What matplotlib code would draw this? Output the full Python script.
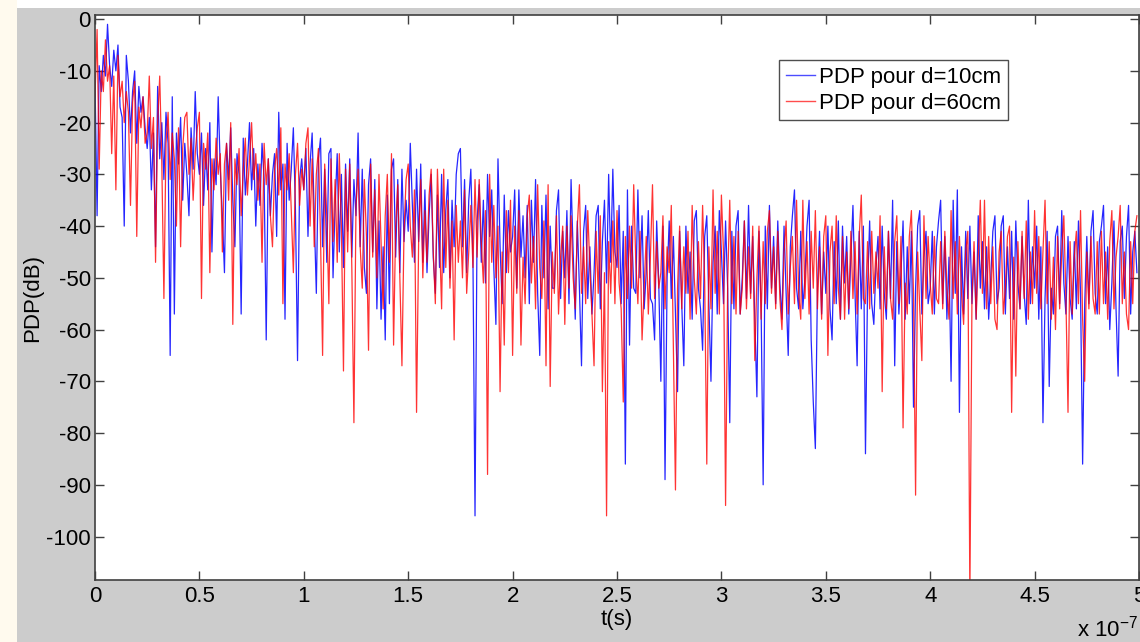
import numpy as np
import matplotlib
matplotlib.use("Agg")
import matplotlib.pyplot as plt
from matplotlib.ticker import FuncFormatter, FixedLocator
from matplotlib.patches import Rectangle

# ---- data (PDP in dB, one sample every 1 ns, 0 .. 499 ns) ----
dt = 1e-9
pdp_10cm = [
    -12, -38, -9, -14, -7, -11, -1, -9, -13, -6, -10, -5, -17, -19, -40, -7, -12, -22, -14, -10, -24, -13, -18, -15, -21,
    -25, -19, -33, -22, -44, -13, -27, -20, -31, -18, -24, -65, -15, -57, -22, -28, -19, -35, -24, -30, -38, -21, -29, -14, -26,
    -30, -22, -36, -25, -33, -20, -45, -27, -32, -15, -29, -38, -49, -24, -31, -21, -35, -44, -26, -30, -57, -23, -34, -28, -20,
    -33, -25, -40, -28, -36, -24, -31, -62, -27, -38, -30, -26, -42, -18, -33, -28, -58, -24, -35, -29, -21, -37, -66, -31, -27,
    -33, -25, -42, -28, -22, -38, -53, -27, -23, -44, -29, -47, -26, -25, -50, -36, -26, -45, -30, -48, -28, -41, -27, -46, -31,
    -38, -22, -44, -29, -48, -53, -32, -27, -45, -31, -56, -39, -58, -44, -62, -34, -55, -29, -27, -46, -31, -49, -29, -43, -35,
    -41, -24, -36, -47, -29, -43, -28, -47, -33, -49, -38, -30, -46, -53, -34, -48, -30, -49, -37, -31, -50, -35, -44, -30, -26,
    -25, -44, -31, -49, -35, -29, -46, -96, -39, -32, -47, -35, -51, -30, -42, -33, -48, -59, -27, -44, -55, -34, -49, -37, -45,
    -42, -33, -52, -33, -46, -38, -50, -36, -55, -35, -47, -31, -53, -65, -36, -50, -34, -56, -40, -52, -52, -37, -33, -54, -41,
    -50, -37, -55, -31, -45, -58, -39, -52, -67, -41, -36, -54, -44, -57, -49, -38, -36, -56, -43, -35, -51, -30, -47, -29, -45,
    -48, -36, -55, -41, -86, -33, -63, -40, -52, -53, -33, -50, -38, -56, -49, -37, -54, -55, -62, -39, -51, -70, -40, -89, -50,
    -39, -54, -42, -57, -72, -41, -55, -67, -40, -53, -45, -58, -39, -37, -52, -56, -64, -42, -38, -55, -70, -47, -40, -57, -37,
    -45, -55, -39, -52, -78, -41, -56, -40, -37, -57, -50, -39, -54, -36, -53, -42, -58, -73, -41, -55, -90, -40, -56, -36, -52,
    -42, -55, -39, -51, -58, -40, -53, -65, -44, -38, -33, -52, -56, -41, -56, -50, -40, -35, -62, -74, -83, -52, -41, -57, -45,
    -53, -40, -56, -62, -43, -55, -39, -58, -40, -51, -42, -57, -46, -36, -53, -67, -41, -56, -40, -84, -52, -39, -55, -59, -48,
    -42, -56, -40, -53, -58, -41, -54, -35, -67, -43, -57, -49, -39, -58, -44, -55, -41, -75, -52, -40, -37, -57, -46, -41, -55,
    -52, -41, -57, -44, -39, -35, -55, -42, -58, -46, -70, -35, -53, -33, -76, -44, -57, -41, -54, -40, -55, -45, -58, -38, -52,
    -43, -56, -44, -58, -50, -41, -38, -55, -52, -40, -38, -57, -44, -54, -41, -58, -39, -51, -56, -42, -53, -59, -35, -55, -44,
    -52, -40, -58, -44, -78, -54, -41, -71, -52, -57, -42, -40, -55, -37, -51, -57, -42, -54, -58, -43, -56, -39, -53, -86, -55,
    -42, -55, -41, -37, -53, -57, -43, -40, -36, -55, -44, -60, -51, -39, -56, -69, -43, -40, -54, -42, -36, -57, -45, -41, -49,
]
pdp_60cm = [
    -15, -2, -29, -10, -14, -4, -12, -9, -26, -11, -33, -7, -15, -12, -20, -14, -18, -36, -16, -12, -42, -17, -21, -15, -24,
    -22, -11, -25, -19, -47, -20, -11, -28, -54, -24, -18, -31, -22, -27, -40, -21, -44, -25, -19, -18, -30, -23, -35, -26, -21,
    -18, -54, -24, -29, -22, -49, -27, -33, -23, -30, -26, -45, -28, -24, -35, -20, -59, -27, -32, -25, -38, -29, -23, -34, -27,
    -20, -31, -26, -35, -28, -47, -24, -32, -27, -38, -44, -29, -25, -34, -21, -55, -28, -33, -26, -37, -49, -30, -24, -36, -29,
    -33, -24, -21, -40, -27, -44, -30, -25, -42, -65, -28, -38, -55, -27, -43, -31, -47, -26, -40, -68, -29, -45, -28, -48, -78,
    -36, -29, -44, -52, -31, -42, -64, -28, -46, -33, -50, -30, -43, -56, -38, -30, -47, -26, -63, -40, -32, -50, -67, -41, -31,
    -28, -40, -46, -33, -76, -43, -31, -50, -37, -47, -34, -29, -45, -55, -29, -42, -56, -29, -48, -35, -52, -39, -62, -36, -47,
    -39, -50, -33, -53, -45, -36, -48, -31, -46, -31, -43, -51, -37, -88, -30, -47, -36, -50, -40, -72, -45, -63, -37, -49, -35,
    -65, -40, -53, -37, -63, -46, -55, -38, -34, -51, -42, -56, -32, -48, -54, -39, -67, -32, -71, -45, -53, -38, -57, -46, -40,
    -59, -40, -52, -38, -50, -56, -40, -32, -53, -44, -55, -37, -48, -57, -67, -41, -53, -38, -72, -49, -96, -43, -53, -39, -55,
    -37, -51, -56, -74, -42, -54, -40, -52, -32, -47, -55, -41, -62, -52, -42, -57, -46, -32, -54, -43, -52, -49, -38, -56, -44,
    -49, -36, -63, -91, -52, -40, -56, -44, -53, -41, -58, -36, -50, -57, -43, -54, -36, -51, -86, -44, -56, -33, -53, -41, -57,
    -34, -45, -94, -51, -35, -55, -42, -57, -41, -57, -52, -39, -56, -44, -54, -40, -66, -50, -40, -58, -43, -55, -41, -37, -53,
    -44, -56, -41, -54, -60, -45, -39, -57, -48, -42, -55, -35, -53, -58, -35, -54, -43, -57, -41, -52, -37, -56, -44, -58, -42,
    -38, -65, -45, -40, -55, -38, -52, -58, -42, -58, -45, -56, -41, -54, -43, -57, -42, -34, -54, -55, -43, -56, -41, -53, -45,
    -52, -38, -72, -44, -56, -41, -54, -58, -43, -38, -55, -42, -79, -51, -57, -42, -37, -53, -92, -45, -56, -66, -38, -54, -42,
    -51, -57, -42, -54, -55, -43, -56, -41, -52, -58, -37, -54, -43, -57, -42, -53, -59, -45, -41, -112, -54, -43, -58, -46, -35,
    -53, -35, -56, -42, -55, -44, -58, -60, -45, -41, -57, -52, -42, -40, -76, -46, -69, -43, -56, -41, -54, -39, -58, -45, -55,
    -37, -53, -42, -56, -45, -35, -55, -43, -58, -46, -60, -42, -56, -45, -38, -54, -76, -43, -57, -46, -41, -55, -37, -58, -70,
    -45, -56, -42, -54, -57, -43, -57, -41, -55, -45, -58, -43, -37, -56, -46, -42, -36, -55, -45, -57, -60, -43, -55, -41, -38,
]
series_labels = ["PDP pour d=10cm", "PDP pour d=60cm"]
y_ticks = [0, -10, -20, -30, -40, -50, -60, -70, -80, -90, -100]
x_ticks_e7 = [0, 0.5, 1, 1.5, 2, 2.5, 3, 3.5, 4, 4.5, 5]

t = np.arange(len(pdp_10cm)) * dt

W, H = 1140, 642
plt.rcParams['font.family'] = ['Liberation Sans', 'DejaVu Sans']
fig = plt.figure(figsize=(W / 100, H / 100), dpi=100, facecolor='#cccccc')

# slide background strips (white top, cream left)
fig.patches.append(Rectangle((0, 1 - 8 / H), 1, 8 / H, transform=fig.transFigure,
                             facecolor='white', edgecolor='none', zorder=0))
fig.patches.append(Rectangle((0, 0), 17 / W, 1, transform=fig.transFigure,
                             facecolor='#fffaee', edgecolor='none', zorder=0))

ax = fig.add_axes([95 / W, 1 - 580 / H, (1139 - 95) / W, (580 - 15) / H])
ax.set_facecolor('white')
l1, = ax.plot(t, pdp_10cm, color='#0000ff', lw=0.9, alpha=0.85, label=series_labels[0])
l2, = ax.plot(t, pdp_60cm, color='#ff0000', lw=0.9, alpha=0.8, label=series_labels[1])

ax.set_xlim(0, 5e-7)
ax.set_ylim(-108.4, 0.8)
ax.xaxis.set_major_locator(FixedLocator([v * 1e-7 for v in x_ticks_e7]))
ax.xaxis.set_major_formatter(FuncFormatter(lambda v, p: f"{v / 1e-7:g}"))
ax.set_yticks(y_ticks)
ax.yaxis.set_major_formatter(FuncFormatter(lambda v, p: f"{v:g}"))

ax.tick_params(direction='in', length=6.5, width=1, color='#404040',
               top=True, right=True, labelsize=16, pad=4)
ax.tick_params(axis='y', pad=3)
for s in ax.spines.values():
    s.set_color('#404040')
    s.set_linewidth(1.2)

ax.set_xlabel('t(s)', fontsize=16, labelpad=2)
ax.set_ylabel('PDP(dB)', fontsize=16, labelpad=2)

fig.text(1077 / W, 5 / H, r'x 10$^{\mathregular{-7}}$', fontsize=16, ha='left', va='baseline')

leg = ax.legend(loc='upper left', bbox_to_anchor=(779 / W, 1 - 60 / H),
                bbox_transform=fig.transFigure, fontsize=16, frameon=True,
                fancybox=False, shadow=False, borderaxespad=0, borderpad=0.3,
                labelspacing=0.22, handlelength=1.3, handletextpad=0.2)
leg.get_frame().set_edgecolor('#222222')
leg.get_frame().set_linewidth(1.0)
for h in leg.get_lines():
    h.set_linewidth(1.0)
    h.set_alpha(0.7)

fig.savefig('out.png', dpi=100, facecolor=fig.get_facecolor())
